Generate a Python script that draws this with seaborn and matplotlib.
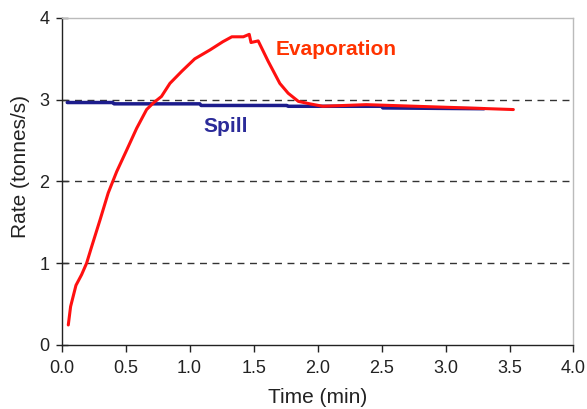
import numpy as np
import pandas as pd
import seaborn as sns
import matplotlib
matplotlib.use("Agg")
import matplotlib.pyplot as plt

evap_time = [0.052, 0.07, 0.112, 0.156, 0.195, 0.234, 0.30, 0.364, 0.43, 0.51, 0.586,
             0.664, 0.716, 0.78, 0.846, 0.94, 1.04, 1.16, 1.26, 1.33, 1.42, 1.466,
             1.48, 1.536, 1.614, 1.705, 1.77, 1.85, 1.94, 2.04, 2.38, 2.77, 3.16, 3.53]
evap_rate = [0.245, 0.47, 0.73, 0.86, 1.0, 1.2, 1.53, 1.86, 2.12, 2.39, 2.65,
             2.88, 2.96, 3.04, 3.20, 3.35, 3.50, 3.61, 3.71, 3.77, 3.77, 3.80,
             3.70, 3.72, 3.47, 3.20, 3.08, 2.98, 2.95, 2.92, 2.94, 2.92, 2.90, 2.88]

spill_time = [0.044, 0.40, 0.41, 1.08, 1.09, 1.76, 1.77, 2.5, 2.51, 3.3]
spill_rate = [2.966, 2.966, 2.95, 2.95, 2.93, 2.93, 2.92, 2.92, 2.90, 2.89]

xticks = [0.0, 0.5, 1.0, 1.5, 2.0, 2.5, 3.0, 3.5, 4.0]
yticks = [0, 1, 2, 3, 4]

sns.set_theme(style="white")
plt.rcParams['font.family'] = ['Liberation Sans', 'DejaVu Sans']

fig = plt.figure(figsize=(5.87, 4.09), dpi=100)
ax = fig.add_axes([0.105, 0.1565, 0.872, 0.7995])

for y in [1, 2, 3]:
    ax.axhline(y, color='#333333', lw=1.0, ls=(0, (5, 4)), zorder=1)

spill_df = pd.DataFrame({"t": spill_time, "r": spill_rate})
evap_df = pd.DataFrame({"t": evap_time, "r": evap_rate})
sns.lineplot(data=spill_df, x="t", y="r", ax=ax, color='#1c1c8c', lw=2.5, sort=False, zorder=2)
sns.lineplot(data=evap_df, x="t", y="r", ax=ax, color='#ff1010', lw=2.2, sort=False, zorder=3)

ax.text(1.675, 3.61, "Evaporation", color='#ff3300', fontsize=15, fontweight='bold', ha='left', va='center')
ax.text(1.285, 2.67, "Spill", color='#2b2b99', fontsize=15, fontweight='bold', ha='center', va='center')

ax.set_xlim(0, 4.0)
ax.set_ylim(0, 4)
ax.set_xticks(xticks)
ax.set_xticklabels([f"{v:.1f}" for v in xticks])
ax.set_yticks(yticks)
ax.set_yticklabels([str(v) for v in yticks])
ax.set_xlabel("Time (min)", fontsize=15, color='#222222', labelpad=8)
ax.set_ylabel("Rate (tonnes/s)", fontsize=15, color='#222222')
ax.yaxis.set_label_coords(-0.062, 0.545)
ax.tick_params(axis='x', direction='out', length=5, width=1, colors='#222222', labelsize=13, bottom=True, pad=6)
ax.tick_params(axis='y', direction='inout', length=8, width=1, colors='#222222', labelsize=13, left=True, pad=5)

for s in ['left', 'bottom']:
    ax.spines[s].set_color('#222222')
    ax.spines[s].set_linewidth(1.0)
for s in ['top', 'right']:
    ax.spines[s].set_color('#bbbbbb')
    ax.spines[s].set_linewidth(1.0)

fig.savefig("out.png", dpi=100, facecolor='white')
